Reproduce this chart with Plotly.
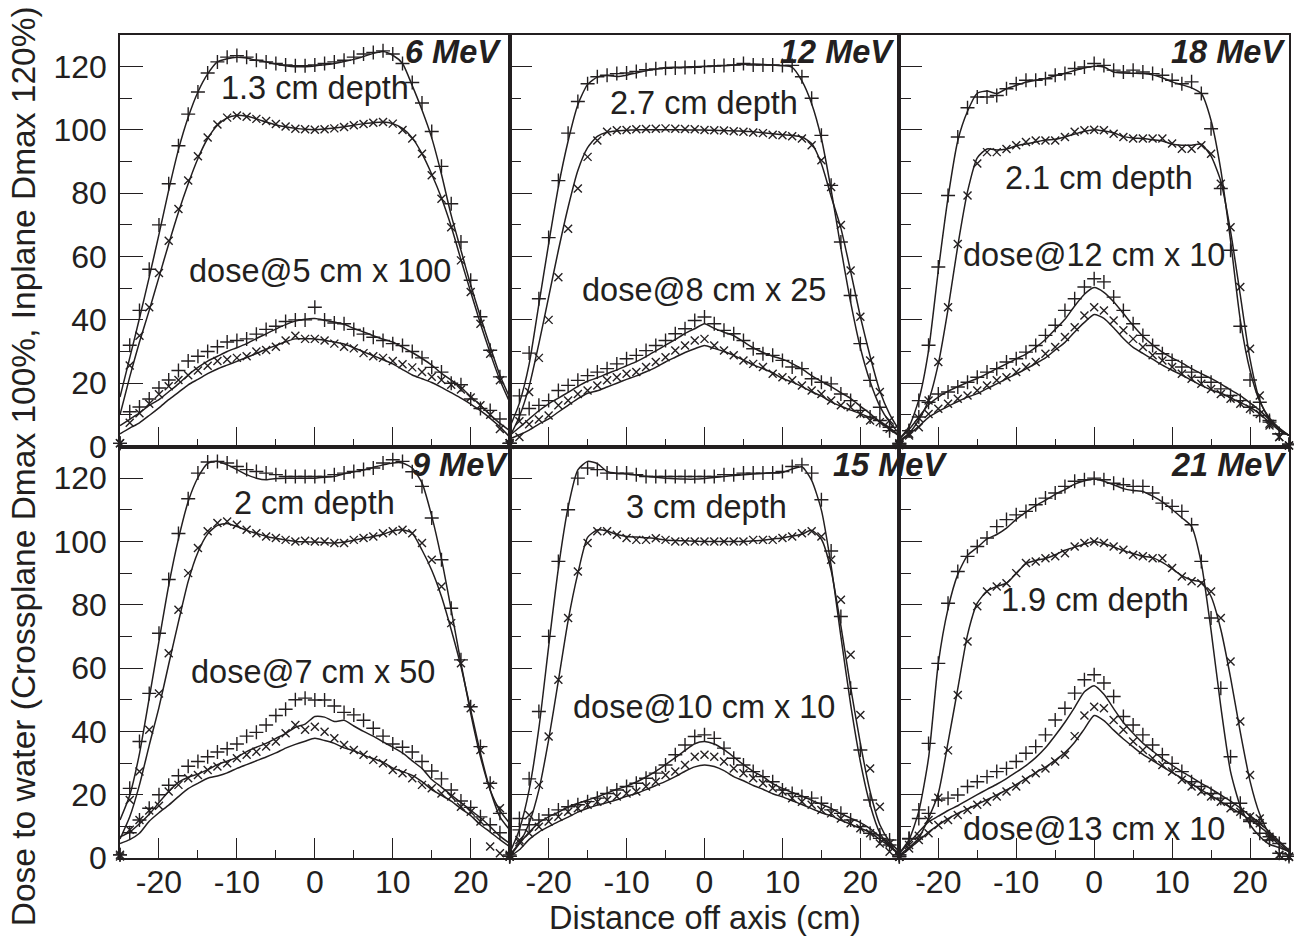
import plotly.graph_objects as go
from plotly.subplots import make_subplots

INK = "#231f20"
FONT = "Liberation Sans, Arial, Helvetica, sans-serif"

# Off-axis positions (cm) shared by every profile
X_CM = [-25, -23.75, -22.5, -21.25, -20, -18.75, -17.5, -16.25, -15, -13.75,
        -12.5, -11.25, -10, -8.75, -7.5, -6.25, -5, -3.75, -2.5, -1.25, 0,
        1.25, 2.5, 3.75, 5, 6.25, 7.5, 8.75, 10, 11.25, 12.5, 13.75, 15,
        16.25, 17.5, 18.75, 20, 21.25, 22.5, 23.75, 25]

# Axis tick labels (plain hyphen for negatives)
X_TICKS = [-20, -10, 0, 10, 20]
X_TICK_TEXT = ["-20", "-10", "0", "10", "20"]

# ---- 6 MeV ----
e6_in_sim = [15.6, 28, 40.5, 53.5, 67, 81, 93.8, 104, 112, 117.7, 121.5, 122.5, 123, 122.7, 122, 121.5, 120.8, 120.3, 120, 120, 120.2, 120.6, 121, 121.6, 122.3, 123.2, 124.2, 124.8, 123.6, 121, 114, 106.3, 97.5, 86, 73, 62, 51, 41, 31.5, 22.5, 15.5]
e6_in_meas = [1, 32, 43, 56, 70, 83, 95, 105, 112, 118, 121.5, 123, 123.5, 123, 122, 121.5, 121, 120.5, 120.3, 120.3, 120.5, 121, 121.5, 122, 123, 124, 124.5, 125, 124, 121, 115, 108.5, 99.5, 88.5, 76.7, 64.6, 52.5, 41, 30.4, 22, 1]
e6_cr_sim = [10, 22, 33, 43, 53.5, 64, 74, 83, 91, 97.3, 101.5, 103.8, 104.6, 104.3, 103.5, 102.5, 101.6, 101, 100.5, 100.2, 100.1, 100.3, 100.6, 101, 101.5, 102, 102.3, 102.5, 102, 100.5, 97.5, 92.5, 86, 78.5, 69.5, 59, 48.8, 38.8, 29.5, 21, 14]
e6_cr_meas = [1, 25.6, 35, 44, 54.8, 65, 75, 84, 91.7, 97.6, 101.7, 103.9, 104.6, 104.2, 103.5, 102.8, 101.9, 101.1, 100.4, 100.2, 100.1, 100.2, 100.5, 100.9, 101.5, 101.9, 102.3, 102.5, 102, 100, 97.3, 92.5, 85.7, 78.3, 69.3, 58.8, 48.8, 38.8, 29.3, 20.9, 1]
e6_din_sim = [6.6, 8.6, 10.6, 13, 14.8, 17.3, 19.8, 22.6, 25, 27, 28.5, 30, 31.2, 32.5, 34.1, 35.6, 37.1, 38.5, 39.6, 40.2, 40.4, 39.9, 39.3, 38.6, 37.3, 36.2, 35, 33.9, 33, 31.4, 29.7, 27.8, 25.7, 23.1, 21, 18.7, 15.8, 13, 10, 7.3, 5]
e6_din_meas = [1, 11, 12.5, 15, 18.5, 21, 24, 27, 28.5, 30, 31.5, 33, 33.5, 34, 35.5, 37, 38, 39.5, 40, 40, 44, 40, 39, 38.8, 37, 35.5, 34.5, 33.5, 32.5, 31.9, 30, 28, 25, 23.5, 20, 19.5, 15, 12, 11.4, 8.7, 1]
e6_dcr_sim = [4, 5.8, 7.5, 9.8, 12.2, 14.8, 17.1, 19.5, 21.2, 23, 24.5, 25.7, 26.9, 28.1, 29.4, 30.7, 31.9, 33.1, 34, 34, 34, 33.6, 33, 32.4, 31.2, 29.9, 28.7, 27.4, 26.1, 24.3, 22.6, 21.4, 20.2, 18.7, 17, 15.3, 13.4, 11.3, 8.9, 6.2, 3]
e6_dcr_meas = [1, 7.5, 10.5, 13.5, 16.5, 19, 21, 22.5, 24, 25.5, 27, 27.5, 28, 28.5, 30, 30.5, 31.5, 33.5, 35, 34, 34, 33.5, 32.5, 31.5, 31, 29.5, 28.5, 28, 27, 26, 25, 23.5, 22, 21, 19.5, 18, 15.5, 13, 10, 5.5, 0.5]

# ---- 12 MeV ----
e12_in_sim = [6, 13.7, 26, 45, 64, 82, 96.5, 108, 114.4, 116.7, 117.2, 116.9, 117.3, 118, 118.7, 119.2, 119.7, 119.8, 119.9, 120, 120.1, 120.2, 120.3, 120.5, 120.7, 120.8, 120.7, 120.5, 120.3, 119.8, 115.5, 108.3, 97.3, 81.1, 62.7, 45.6, 31.2, 20.5, 12.7, 7.7, 4]
e12_in_meas = [1, 16, 29.5, 46.7, 66, 84, 99, 109, 114.6, 116.8, 117.3, 117.8, 118, 118.5, 119, 119.3, 119.5, 119.6, 119.7, 119.8, 120, 120.2, 120.4, 120.5, 121, 120.5, 120.5, 120.5, 120.4, 120.4, 116.8, 110, 98.3, 82.5, 64.6, 47.7, 32.5, 20.9, 12.4, 6.1, 0.5]
e12_cr_sim = [3, 9.5, 19, 32.5, 47.2, 62, 75.6, 87.2, 94.4, 98, 99.3, 99.7, 99.9, 100, 100.1, 100.1, 100.1, 100.1, 100, 100, 100, 99.9, 99.8, 99.7, 99.6, 99.4, 99.1, 98.8, 98.5, 98.3, 97.8, 95.7, 89.3, 79, 69, 55.3, 41, 28.5, 17.5, 10.2, 5]
e12_cr_meas = [1, 8, 17.2, 28, 40, 53.5, 68.8, 81.5, 91.5, 96.7, 99.4, 99.9, 100, 100.2, 100.3, 100.4, 100.5, 100.4, 100.3, 100.2, 100, 99.9, 99.8, 99.6, 99.4, 99.2, 99, 98.5, 98.3, 98, 97.3, 95.2, 90.4, 82, 70, 55.6, 41, 27.2, 17.2, 8.2, 0.5]
e12_din_sim = [3.5, 6, 8.7, 11.3, 13.5, 15.3, 17.1, 19, 20.6, 21.7, 23, 24.2, 25.5, 26.8, 28.4, 30.2, 32, 33.8, 35.7, 37.2, 38.8, 37.3, 36.1, 35, 33.1, 31.2, 29.7, 28.5, 27.6, 26.2, 24.5, 22.4, 20.6, 18.9, 17, 15.2, 12.7, 10.4, 7.7, 5.4, 3.3]
e12_din_meas = [1, 10, 12, 13, 14.5, 17.7, 19.3, 20.9, 22.4, 23.5, 24.6, 26.1, 27.7, 28.8, 30.3, 31.9, 33.5, 35.6, 37.2, 39.8, 40.9, 38.8, 36.7, 35.6, 33.5, 30.9, 29.3, 28.8, 27.2, 25.1, 24.6, 21.4, 20.3, 19.8, 16.6, 14.5, 11.4, 9.3, 8.2, 5, 0.5]
e12_dcr_sim = [2.4, 3.7, 5.2, 7.1, 8.7, 10.9, 13, 15.1, 16.8, 17.6, 18.8, 20, 21.2, 22.3, 23.6, 25, 26.7, 28.2, 29.7, 30.9, 31.9, 31, 30, 28.8, 27.3, 25.8, 24.6, 23.3, 21.5, 20.4, 18.9, 17.3, 15.9, 14.1, 12.7, 11.5, 10.4, 9.2, 7.9, 5.9, 3.5]
e12_dcr_meas = [1, 3, 7, 8.5, 9.8, 13, 14.5, 16.6, 17.7, 19.3, 20.9, 21.9, 23, 23.5, 25.1, 26.7, 28.2, 30.3, 31.9, 33.5, 34, 31.9, 30.3, 28.8, 27.2, 26.1, 25.1, 23, 21.9, 20.9, 19.3, 17.7, 16.6, 14.5, 13, 12.4, 10.3, 8.2, 7.7, 5.6, 0.5]

# ---- 18 MeV ----
e18_in_sim = [2.4, 6.3, 14.8, 30.3, 55.6, 78.6, 96.6, 105.9, 111.6, 112.3, 111.5, 113, 114.1, 115.1, 115.7, 116.3, 117.1, 117.9, 118.8, 119.6, 120.1, 119.9, 118.3, 118, 117.9, 117.8, 117.4, 116.5, 115.2, 114.3, 113.3, 111.5, 103, 87.4, 65, 40, 24, 14.2, 9, 5.8, 3.5]
e18_in_meas = [1, 5, 14.5, 32, 56.7, 79.3, 97.8, 107, 110.4, 110.4, 110.9, 113, 114.6, 115.7, 115.7, 116.2, 117.3, 117.8, 119.4, 119.9, 121, 120.4, 118.9, 118.3, 118.9, 118.3, 117.8, 117.3, 115.7, 114.6, 115.2, 111.5, 100.4, 81.5, 62, 38, 21, 14, 8.2, 4, 0.8]
e18_cr_sim = [1.9, 4.2, 8.4, 14.5, 26.1, 43.4, 63.4, 80.5, 91.2, 94, 93.7, 94, 95, 95.6, 96.2, 96.8, 97.1, 97.8, 98.7, 99.6, 100.1, 99.7, 99.1, 97.9, 97.5, 97.3, 96.9, 96.5, 95.5, 95.2, 95.2, 95.5, 91.7, 83.8, 68, 47.8, 27.6, 14.5, 8.5, 5, 3.5]
e18_cr_meas = [0.8, 4, 9, 14.5, 26.7, 44, 64, 79.3, 89.4, 93, 93, 94, 95.2, 96.2, 96.7, 96.7, 96.7, 97.8, 99.4, 99.9, 100.1, 99.9, 98.8, 97.8, 97.3, 97.3, 97.3, 97.3, 95.7, 94.1, 94.1, 95.2, 92.5, 83, 69.3, 50.4, 30.9, 16.1, 7.2, 3, 0.3]
e18_din_sim = [2.4, 5.4, 9.3, 13.2, 15.6, 17.5, 18.9, 20.3, 21.5, 23, 24.6, 26.1, 27.7, 29.2, 31.3, 33.8, 37, 40.2, 44.4, 48.1, 50.2, 48.7, 45.7, 42, 38.2, 34.8, 32.1, 29.8, 28, 26.4, 24.6, 23, 21.5, 19.8, 17.9, 16.1, 13.8, 11.4, 8.4, 5.6, 3.5]
e18_din_meas = [1, 5, 9.3, 14, 16.6, 17.2, 18.8, 20.3, 21.9, 23.5, 24.6, 26.7, 27.7, 29.8, 31.9, 35.1, 38.3, 43, 46.7, 50.4, 53, 52, 47.2, 43, 38.8, 35.1, 31.9, 29.3, 27.2, 25.1, 23.5, 21.9, 20.3, 18.2, 16.1, 14.5, 12.4, 9.8, 7.7, 4, 0.5]
e18_dcr_sim = [1.4, 3.9, 6.4, 9.2, 11.1, 12.7, 14.2, 15.6, 16.7, 18.3, 19.8, 21.4, 22.9, 24.5, 26.2, 28, 30.5, 32.9, 36.2, 39.2, 41.7, 40.5, 37.5, 34.1, 31.3, 29.4, 27.6, 25.7, 24.1, 22.6, 20.9, 19.3, 17.9, 16.8, 15.4, 13.9, 12.4, 10.3, 7.6, 5.1, 3.5]
e18_dcr_meas = [1, 3.5, 6.1, 10.3, 11.9, 13.5, 15.1, 16.1, 17.7, 19.3, 20.9, 21.9, 23.5, 25.1, 26.7, 29.3, 31.4, 34.6, 37.7, 41.4, 44, 43, 39.8, 36.7, 34, 31.4, 28.8, 27.2, 25.1, 23, 21.4, 19.8, 18.2, 16.6, 15.1, 13.5, 11.9, 10.3, 6.6, 3, 0.3]

# ---- 9 MeV ----
e9_in_sim = [12, 19.8, 33, 50.5, 68.5, 86.1, 100.8, 112.6, 120.2, 124.7, 125.3, 124.2, 122.7, 121.1, 120, 119.5, 119.9, 120, 120, 120, 120, 120.3, 120.5, 121.4, 122, 122.6, 123.4, 124.2, 124.8, 124.8, 123.2, 118.5, 108, 94.5, 78.4, 61.6, 45.7, 32, 21.5, 15, 11]
e9_in_meas = [1, 22, 36.8, 52, 71, 88, 102.5, 113.5, 121.6, 125.1, 125.3, 124.8, 123.7, 122.7, 122.1, 121.6, 121.1, 120.5, 120.5, 120.5, 120.5, 120.5, 121.1, 121.6, 122.1, 122.7, 123.2, 124.8, 125.8, 125.3, 122, 117.4, 107.4, 94.2, 78.9, 62.6, 47.8, 35.2, 23.6, 14.1, 1]
e9_cr_sim = [6, 13, 23.1, 35.6, 47.6, 61.2, 74.6, 87.4, 96.6, 102.4, 105.1, 105.7, 104.7, 103.5, 102.6, 101.6, 101, 100.5, 100, 99.9, 99.8, 99.7, 99.5, 99.8, 100.4, 101, 101.6, 102.3, 103.3, 103.7, 102.6, 97.3, 90.9, 82.6, 72.1, 60.5, 46.8, 33.1, 21.5, 13, 8.9]
e9_cr_meas = [0.5, 18.3, 27.3, 40.5, 52, 64.7, 78.4, 90, 97.9, 103.2, 105.8, 106.3, 105.3, 103.7, 102.6, 101.6, 101.1, 100.5, 100, 100.2, 100, 100, 99.5, 99.5, 100.5, 101.1, 101.6, 102.6, 103.2, 103.7, 102.6, 99.5, 94.2, 85.8, 74.2, 61.5, 47.3, 34.1, 23.1, 15.7, 1]
e9_din_sim = [6.7, 8.2, 10.8, 13.8, 17.5, 21, 23.9, 25.5, 26.5, 27.9, 29.5, 30.6, 31.8, 33.6, 35, 36.2, 37.8, 39.3, 41.3, 42.3, 44.7, 44.5, 43.1, 43.5, 41.7, 40, 38.5, 36.7, 35, 33.2, 30.7, 28.3, 24.8, 22.4, 19.9, 17.5, 15.1, 12.7, 9.9, 6.9, 4.6]
e9_din_meas = [1, 8, 12, 15.7, 20, 23, 26, 29, 30.5, 32, 33.5, 34.5, 36, 38.5, 39.7, 42, 45, 47, 50, 50.5, 49.9, 49.9, 48, 46, 45.2, 43.5, 41, 38.5, 36, 35, 33.5, 30.5, 27.5, 25, 21.5, 18, 16, 13, 10.5, 8, 0.5]
e9_dcr_sim = [4.6, 5.8, 7.8, 11.6, 14.3, 16.7, 19.4, 21.9, 23.6, 25.2, 25.9, 26.9, 28.3, 29.5, 30.7, 31.9, 33.2, 34.7, 35.9, 36.9, 37.8, 37.1, 36.2, 34.8, 33.9, 32.5, 31.4, 30.3, 28.4, 27.3, 26.1, 24.1, 21.6, 19.8, 18, 15.6, 13.4, 10.5, 8.2, 5.8, 3.6]
e9_dcr_meas = [1, 8.9, 12, 15, 16.5, 21, 23.1, 25.2, 26.2, 27.8, 28.9, 29.9, 31.5, 32.6, 33.6, 35.2, 36.8, 39.4, 42, 40.5, 41.5, 39.9, 37.8, 35.7, 34.1, 32.6, 31, 29.9, 27.8, 26.8, 25.2, 23.1, 22, 20.4, 19.4, 16.2, 14.6, 11.5, 3.6, 1.5, 0.5]

# ---- 15 MeV ----
e15_in_sim = [1.5, 9, 21.5, 41, 66.8, 91.5, 110.8, 122.6, 125.3, 124.6, 122.1, 121.5, 121.3, 121, 120.6, 120.3, 120, 119.8, 119.7, 119.7, 119.9, 120.2, 120.5, 120.8, 121.1, 121.3, 121.5, 121.7, 121.8, 122.9, 123.6, 119.3, 109.9, 92.3, 70, 48.5, 30.4, 16.8, 7.9, 3.6, 1.5]
e15_in_meas = [0.5, 12.5, 25, 46.3, 70, 93.7, 110, 120, 123.2, 122.7, 121.6, 121.6, 121.6, 121.1, 120.5, 120.5, 120.5, 120.5, 120.5, 120.5, 120.5, 120.5, 121.1, 121.1, 121.6, 121.6, 121.6, 121.6, 122.1, 123.7, 124.2, 121.6, 113.2, 97, 76.3, 53.6, 34.1, 18.3, 7.3, 5.7, 1]
e15_cr_sim = [1, 4.8, 11, 21.5, 37.3, 56, 75, 89.9, 101.3, 103.6, 103.3, 102.2, 101.6, 101.4, 101.2, 100.9, 100.5, 100.3, 100.2, 100.1, 100, 100, 100, 100, 100, 100.2, 100.4, 100.8, 101.1, 101.7, 102.3, 103.5, 100.7, 90.8, 73.3, 53.9, 36.2, 21, 10.5, 5.2, 2]
e15_cr_meas = [0.5, 5, 13.6, 23.1, 38.4, 56.3, 75.8, 90.5, 99.5, 103.2, 103.2, 102.1, 101.1, 100.5, 100.5, 101, 100.5, 100, 100, 100, 100, 100, 100, 100, 100, 100.5, 100.5, 100.5, 101.1, 101.6, 102.6, 103.2, 101.6, 94.2, 81.6, 64.2, 45.2, 28.3, 16.2, 4.6, 0.4]
e15_din_sim = [0.4, 4.5, 8.1, 11.2, 13, 14.5, 16.1, 17.3, 18.3, 19.3, 20.5, 21.7, 22.7, 24, 25.6, 27.4, 29.5, 31.7, 34, 36.1, 36.8, 36, 34.2, 31.9, 29.5, 27.4, 25.7, 23.5, 22, 20.7, 19.6, 18.2, 17, 15.7, 14, 12.6, 11.2, 9.3, 6.7, 4.2, 1]
e15_din_meas = [0.5, 8.9, 10.5, 12, 13.6, 15.2, 16.2, 16.8, 17.8, 18.9, 20.4, 21.5, 22.6, 23.6, 25.2, 26.8, 29.4, 32.6, 35.7, 38.4, 38.9, 37.8, 34.7, 31.5, 29.4, 27.3, 25.7, 24.1, 21.5, 20.4, 19.4, 18.9, 17.3, 15.2, 14.1, 12, 9.9, 7.8, 6.2, 4.1, 0.4]
e15_dcr_sim = [0.4, 2.6, 5.9, 8.2, 9.9, 11.5, 12.9, 14.5, 15.7, 16.7, 17.5, 18.4, 19.5, 20.4, 21.6, 22.9, 24.2, 25.7, 27.4, 28.8, 29.4, 28.9, 27.6, 25.7, 24.4, 22.9, 21.7, 20.3, 19.3, 18.1, 16.9, 15.6, 14.3, 13.3, 11.9, 10.7, 9.4, 8.1, 5.8, 3.7, 1]
e15_dcr_meas = [0.5, 5.7, 7.8, 9.9, 11.5, 13, 14.6, 15.7, 16.8, 17.8, 18.3, 19.4, 20.4, 21, 22.6, 24.1, 26.2, 27.3, 29.4, 32, 32.6, 32, 30.5, 28.3, 26.8, 25.2, 23.6, 22, 21, 18.9, 17.8, 16.8, 15.2, 14.1, 12.5, 11, 9.4, 7.8, 4.6, 2, 0.4]

# ---- 21 MeV ----
e21_in_sim = [1.5, 5.8, 14.8, 31.6, 61.5, 78.8, 89.6, 95.6, 98.1, 100.8, 102.2, 104.2, 107, 109.3, 111.3, 113, 114.9, 116.4, 118.1, 119.2, 119.7, 119, 117.9, 116.7, 116.1, 115.8, 114.3, 112.5, 110.1, 107.5, 104.7, 93.1, 71.9, 47.8, 27.3, 16.4, 10.5, 6.8, 4.3, 3.3, 2]
e21_in_meas = [1, 6.2, 15.2, 36.2, 61.5, 80.5, 90.5, 95.3, 98.4, 101.1, 104.7, 106.9, 108.4, 109.5, 111.6, 113.7, 115.3, 117.4, 119, 119.5, 120, 119.5, 118.4, 117.9, 117.4, 117.4, 115.3, 112.1, 111.1, 109.5, 105.3, 93.7, 75.8, 53.6, 32, 17.3, 11.5, 7.8, 5.7, 1.5, 0.5]
e21_cr_sim = [1, 3.3, 6.3, 12.6, 20.4, 36.5, 53.5, 70.5, 80.5, 84.3, 85.8, 86.8, 89.9, 93, 94, 94.6, 95.8, 97.2, 98.2, 99.2, 100, 99.3, 98.3, 97.1, 96.2, 95.3, 94.9, 93.4, 91.4, 89.2, 87.8, 87.2, 82.6, 72.2, 57, 39.8, 24.3, 13.8, 7.5, 4.1, 2]
e21_cr_meas = [0.5, 3, 7, 12, 19, 34, 51.5, 68.4, 79.5, 84.2, 85.8, 86.8, 90, 93.2, 93.7, 94.7, 95.3, 96.3, 98.4, 99.5, 100, 99.5, 98.4, 97.4, 95.8, 95.3, 94.7, 94.7, 91.6, 88.9, 87.4, 86.8, 84.2, 75.8, 62.1, 43.1, 26.2, 12.5, 6.7, 0.9, 0.3]
e21_din_sim = [1.5, 4.8, 8.2, 11.4, 13.2, 15, 16.5, 18.3, 20, 21.7, 23.3, 25.1, 27.1, 29.2, 31.7, 34.8, 38.7, 42.9, 47.6, 52.5, 54.4, 51.7, 47.2, 42.8, 39.4, 36.3, 33.8, 31.4, 29.3, 27.3, 25.5, 23.6, 21.8, 19.9, 18, 15.8, 13.4, 11, 8.2, 5.3, 2.5]
e21_din_meas = [0.5, 6, 12.5, 14.1, 18.3, 18.9, 19.9, 22.6, 24.1, 25.7, 27.3, 28.3, 30.5, 33.1, 35.2, 38.9, 43.6, 47.3, 52.1, 56.3, 57.9, 55.3, 51, 44.7, 42, 38.9, 35.7, 32.6, 29.9, 27.3, 24.1, 22.6, 20.4, 18.9, 17.3, 14.6, 12, 11, 6.7, 4.6, 1]
e21_dcr_sim = [0.4, 2.9, 5.5, 8.2, 10.4, 12.4, 14.1, 15.5, 16.9, 18.4, 19.9, 21.5, 23.2, 25.1, 27, 28.7, 30.9, 33.3, 36.6, 40.8, 45, 43.4, 40.4, 37.6, 35.1, 32.7, 30.8, 28.9, 27, 25.2, 23.4, 21.5, 19.7, 17.8, 16, 14.1, 12.1, 9.9, 7.4, 4.9, 2]
e21_dcr_meas = [0.5, 4.1, 5.7, 7.8, 10.4, 12, 13.6, 15.2, 16.8, 17.8, 19.4, 21, 22.6, 24.7, 26.8, 28.3, 30.5, 32.6, 38.5, 45, 47.8, 47.3, 43.6, 40.5, 36.8, 34.1, 31.5, 29.4, 27.3, 24.7, 22.6, 21, 19.4, 17.8, 15.7, 14.6, 13.1, 11, 6.2, 1, 0.5]

# Panel table: grid cell, energy tag, label texts and where they sit (data units)
PANELS = [
    dict(row=1, col=1, energy="6 MeV", e_x=24.1, e_y=124.6, e_anchor="right",
         depth="1.3 cm depth", d_x=0.0, d_y=113.2,
         deep="dose@5 cm x 100", p_x=0.7, p_y=55.3,
         sims=(e6_in_sim, e6_cr_sim, e6_din_sim, e6_dcr_sim),
         meas=(e6_in_meas, e6_cr_meas, e6_din_meas, e6_dcr_meas)),
    dict(row=1, col=2, energy="12 MeV", e_x=24.6, e_y=124.6, e_anchor="right",
         depth="2.7 cm depth", d_x=0.0, d_y=108.5,
         deep="dose@8 cm x 25", p_x=0.0, p_y=49.3,
         sims=(e12_in_sim, e12_cr_sim, e12_din_sim, e12_dcr_sim),
         meas=(e12_in_meas, e12_cr_meas, e12_din_meas, e12_dcr_meas)),
    dict(row=1, col=3, energy="18 MeV", e_x=24.7, e_y=124.6, e_anchor="right",
         depth="2.1 cm depth", d_x=0.6, d_y=84.8,
         deep="dose@12 cm x 10", p_x=0.0, p_y=60.4,
         sims=(e18_in_sim, e18_cr_sim, e18_din_sim, e18_dcr_sim),
         meas=(e18_in_meas, e18_cr_meas, e18_din_meas, e18_dcr_meas)),
    dict(row=2, col=1, energy="9 MeV", e_x=25.0, e_y=124.0, e_anchor="right",
         depth="2 cm depth", d_x=0.0, d_y=112.3,
         deep="dose@7 cm x 50", p_x=-0.3, p_y=58.9,
         sims=(e9_in_sim, e9_cr_sim, e9_din_sim, e9_dcr_sim),
         meas=(e9_in_meas, e9_cr_meas, e9_din_meas, e9_dcr_meas)),
    dict(row=2, col=2, energy="15 MeV", e_x=16.2, e_y=124.0, e_anchor="left",
         depth="3 cm depth", d_x=0.2, d_y=111.0,
         deep="dose@10 cm x 10", p_x=0.0, p_y=47.8,
         sims=(e15_in_sim, e15_cr_sim, e15_din_sim, e15_dcr_sim),
         meas=(e15_in_meas, e15_cr_meas, e15_din_meas, e15_dcr_meas)),
    dict(row=2, col=3, energy="21 MeV", e_x=24.9, e_y=124.0, e_anchor="right",
         depth="1.9 cm depth", d_x=0.1, d_y=81.6,
         deep="dose@13 cm x 10", p_x=0.0, p_y=9.2,
         sims=(e21_in_sim, e21_cr_sim, e21_din_sim, e21_dcr_sim),
         meas=(e21_in_meas, e21_cr_meas, e21_din_meas, e21_dcr_meas)),
]

# inplane profiles use "+", crossplane profiles use "x"
SYMBOLS = ("cross-thin", "x-thin", "cross-thin", "x-thin")
SIZES = (10, 8, 10, 8)

LABEL_SIZE = 32.5
TICK_SIZE = 32

fig = make_subplots(rows=2, cols=3, horizontal_spacing=0, vertical_spacing=0)

for p in PANELS:
    r, c = p["row"], p["col"]
    for sim in p["sims"]:
        fig.add_trace(go.Scatter(
            x=X_CM, y=sim, mode="lines",
            line=dict(color=INK, width=1.5, shape="spline", smoothing=0.6),
            hoverinfo="skip"), row=r, col=c)
    for meas, sym, sz in zip(p["meas"], SYMBOLS, SIZES):
        fig.add_trace(go.Scatter(
            x=X_CM, y=meas, mode="markers", cliponaxis=False,
            marker=dict(symbol=sym, size=sz, color=INK,
                        line=dict(color=INK, width=1.4))), row=r, col=c)

    fig.add_annotation(text="<b><i>" + p["energy"] + "</i></b>",
                       x=p["e_x"], y=p["e_y"], xanchor=p["e_anchor"], yanchor="middle",
                       showarrow=False, font=dict(size=LABEL_SIZE, color=INK, family=FONT),
                       row=r, col=c)
    fig.add_annotation(text=p["depth"], x=p["d_x"], y=p["d_y"],
                       xanchor="center", yanchor="middle", showarrow=False,
                       font=dict(size=LABEL_SIZE, color=INK, family=FONT), row=r, col=c)
    fig.add_annotation(text=p["deep"], x=p["p_x"], y=p["p_y"],
                       xanchor="center", yanchor="middle", showarrow=False,
                       font=dict(size=LABEL_SIZE, color=INK, family=FONT), row=r, col=c)

for r in (1, 2):
    for c in (1, 2, 3):
        fig.update_xaxes(
            range=[-25, 25], tickmode="array", tickvals=X_TICKS, ticktext=X_TICK_TEXT,
            ticks="inside", ticklen=20, tickwidth=1.3, tickcolor=INK,
            minor=dict(tickmode="linear", dtick=5, tick0=0, ticks="inside", ticklen=8,
                       tickwidth=1.3, tickcolor=INK, showgrid=False),
            showline=True, linecolor=INK, linewidth=1.6, mirror=True,
            showgrid=False, zeroline=False, showticklabels=(r == 2),
            ticklabelstandoff=-5,
            tickfont=dict(size=TICK_SIZE, color=INK, family=FONT), row=r, col=c)
        fig.update_yaxes(
            range=[0, 130], tickmode="linear", tick0=0, dtick=20,
            ticks="inside", ticklen=23, tickwidth=1.3, tickcolor=INK,
            minor=dict(dtick=10, tick0=0, ticks="inside", ticklen=12,
                       tickwidth=1.3, tickcolor=INK, showgrid=False),
            showline=True, linecolor=INK, linewidth=1.6, mirror=True,
            showgrid=False, zeroline=False, showticklabels=(c == 1),
            ticklabelstandoff=5,
            tickfont=dict(size=TICK_SIZE, color=INK, family=FONT), row=r, col=c)

fig.add_annotation(text="Distance off axis (cm)", xref="paper", yref="paper",
                   x=0.5, y=-0.0725, xanchor="center", yanchor="middle",
                   showarrow=False, font=dict(size=32.5, color=INK, family=FONT))
fig.add_annotation(text="Dose to water (Crossplane Dmax 100%, Inplane Dmax 120%)",
                   xref="paper", yref="paper", x=-0.083, y=0.476,
                   xanchor="center", yanchor="middle", textangle=-90,
                   showarrow=False, font=dict(size=33.5, color=INK, family=FONT))

fig.update_layout(
    width=1294, height=936,
    margin=dict(l=120, r=3, t=35, b=78),
    paper_bgcolor="white", plot_bgcolor="white",
    showlegend=False,
    font=dict(family=FONT, size=TICK_SIZE, color=INK),
)

fig.write_html("out.html")
